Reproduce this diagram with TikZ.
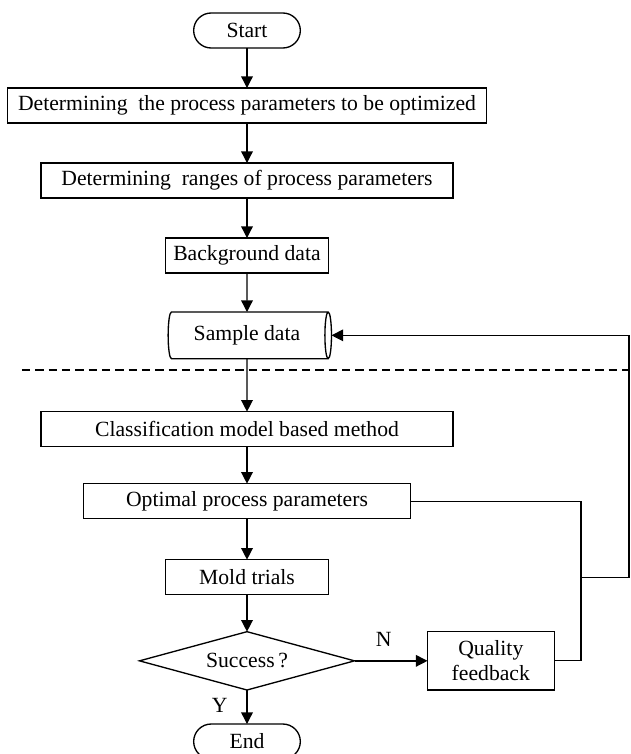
\documentclass[tikz,border=0pt]{standalone}
\usepackage{fontspec}
\setmainfont{Liberation Serif}
\usetikzlibrary{arrows.meta,shapes,positioning}

\begin{document}
\begin{tikzpicture}[auto, font=\fontsize{13}{15}\selectfont, >={Triangle[width=7pt,length=7pt]}]
\tikzstyle{box}=[draw,rectangle, minimum height=21pt, inner sep=2pt, outer sep=0pt, node distance=24pt, line width=0.8pt]
\tikzstyle{term}=[draw,rectangle,rounded corners=10.5pt, minimum width=64pt, minimum height=21pt, outer sep=0pt, node distance=24pt, line width=0.8pt]
\tikzstyle{store}=[draw,cylinder, aspect=0.25, minimum height=98pt, minimum width=28pt, inner sep=2pt, outer sep=0pt, line width=0.8pt]
\tikzstyle{decision}=[draw,diamond, aspect=3.7, minimum width=129pt, minimum height=35pt, inner sep=0pt, outer sep=0pt, line width=0.8pt]
\tikzstyle{flow}=[draw,->, line width=0.8pt]
\useasboundingbox (-148.2pt,18.3pt) rectangle (229.8pt,-434.1pt);
\node[term] (start) at (0,0) {Start};
\node[box, minimum width=287pt] (p1) [below=of start] {Determining~ the process parameters to be optimized};
\node[box, minimum width=247pt] (p2) [below=of p1] {Determining~ ranges of process parameters};
\node[box, minimum width=98pt] (bg) [below=of p2] {Background data};
\node[store] (sample) [below=23.4pt of bg] {Sample data};
\node[box, minimum width=247pt] (cls) [below=31.8pt of sample] {Classification model based method};
\node[box, minimum width=196pt] (opt) [below=22.2pt of cls] {Optimal process parameters};
\node[box, minimum width=98pt] (mold) [below=24.6pt of opt] {Mold trials};
\node[decision] (succ) [below=22.2pt of mold] {Success\,?};
\node[box, minimum width=76pt, minimum height=35pt, align=center] (qf) [right=43.8pt of succ] {Quality\\feedback};
\node[term] (stop) [below=20.4pt of succ] {End};
% feedback loop
\coordinate (rx) at (200.4pt,0);
\coordinate (ry) at (229.2pt,0);
\coordinate (join) at (rx |- mold);
\coordinate (corner) at (ry |- mold);
\draw[dash pattern=on 5pt off 3pt, line width=1.3pt] (-135pt,-203.7pt) -- (229.8pt,-203.7pt);
\draw[flow] (start) -- (p1);
\draw[flow] (p1) -- (p2);
\draw[flow] (p2) -- (bg);
\draw[flow] (bg) -- (sample);
\draw[flow] (sample) -- (cls);
\draw[flow] (cls) -- (opt);
\draw[flow] (opt) -- (mold);
\draw[flow] (mold) -- (succ);
\draw[flow] (succ) -- node[above=5pt, pos=0.4] {N} (qf);
\draw[flow] (succ) -- node[left=8pt, pos=0.45] {Y} (stop);
\draw[line width=0.7pt] (opt.east) -| (rx |- qf) -- (qf.east);
\draw[flow, line width=0.7pt] (join) -- (corner) |- (sample.east);
\end{tikzpicture}
\end{document}
